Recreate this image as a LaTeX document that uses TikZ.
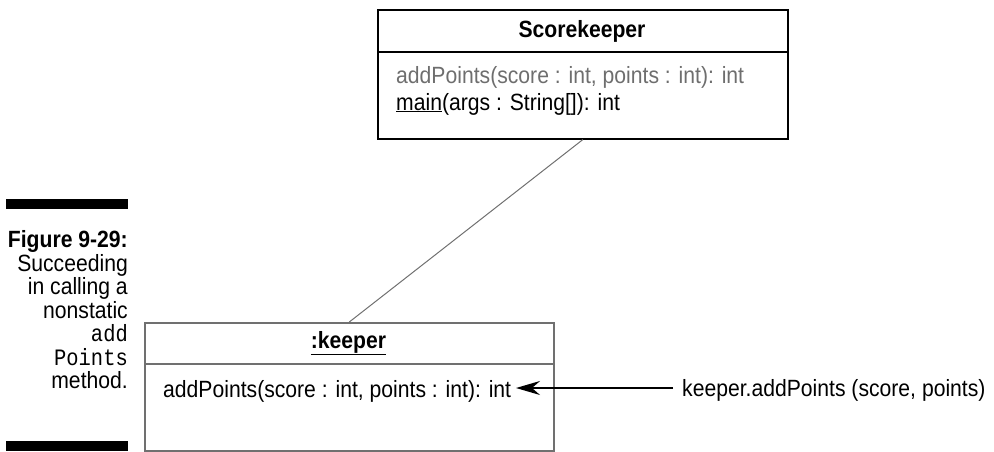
\documentclass[tikz,border=0pt]{standalone}
\usepackage{fontspec}
\setmainfont{Liberation Sans}[FakeStretch=0.9]
\setmonofont{Liberation Mono}[FakeStretch=0.87]
\usetikzlibrary{arrows.meta}
\definecolor{boxgray}{HTML}{707070}
\definecolor{txtgray}{HTML}{6E6E6E}
\tikzset{
  umlbox/.style={draw, line width=1.6pt, inner sep=0pt, anchor=north west},
  txt/.style={inner sep=0pt, font=\fontsize{23.5}{23.5}\selectfont},
  captxt/.style={txt, anchor=base east},
  bar/.style={fill=black, draw=none},
  assoc/.style={draw=boxgray, line width=1pt},
  msg/.style={draw=black, line width=1.6pt, -{Stealth[length=24pt,width=14pt,inset=8pt]}},
}
\begin{document}
\begin{tikzpicture}[x=1pt,y=-1pt]
\useasboundingbox (0,0) rectangle (994,451);
% top class box
\node[umlbox, minimum width=410pt, minimum height=129pt] (sk) at (377,9) {};
\coordinate (skdl) at (377,52);
\coordinate (skdr) at (787,52);
\draw[line width=1.6pt] (skdl) -- (skdr);
\node[txt, font=\fontsize{23.5}{23.5}\selectfont\bfseries] (sktitle) at (582,31) {Scorekeeper};
\node[txt, anchor=base west, text=txtgray] (skm1) at (396,83) {addPoints(score : int, points : int): int};
\node[txt, anchor=base west] (skm2) at (396,110) {\underline{main}(args : String[]): int};
% bottom object box
\node[umlbox, draw=boxgray, minimum width=409pt, minimum height=128pt] (kp) at (144,322) {};
\coordinate (kpdl) at (144,364);
\coordinate (kpdr) at (553,364);
\draw[line width=1.6pt, boxgray] (kpdl) -- (kpdr);
\node[txt, font=\fontsize{23.5}{23.5}\selectfont\bfseries] (kptitle) at (348.5,343) {\underline{:keeper}};
\node[txt, anchor=base west] (kpm) at (163,397) {addPoints(score : int, points : int): int};
% association
\draw[assoc] (sk.south) -- (kp.north);
% message
\node[txt, anchor=base west] (lbl) at (682,396) {keeper.addPoints (score, points)};
\coordinate (tip) at (516,388);
\coordinate (lstart) at (673,388);
\draw[msg] (lstart) -- (tip);
% caption
\fill[bar] (6,199) rectangle (128,209);
\node[captxt] (c1) at (128,247.5) {\bfseries Figure 9-29:};
\node[captxt] (c2) at (128,271) {Succeeding};
\node[captxt] (c3) at (128,294.5) {in calling a};
\node[captxt] (c4) at (128,318) {nonstatic};
\node[captxt] (c5) at (128,341.5) {\ttfamily add};
\node[captxt] (c6) at (128,365) {\ttfamily Points};
\node[captxt] (c7) at (128,388.5) {method.};
\fill[bar] (6,441) rectangle (128,451);
\end{tikzpicture}
\end{document}
